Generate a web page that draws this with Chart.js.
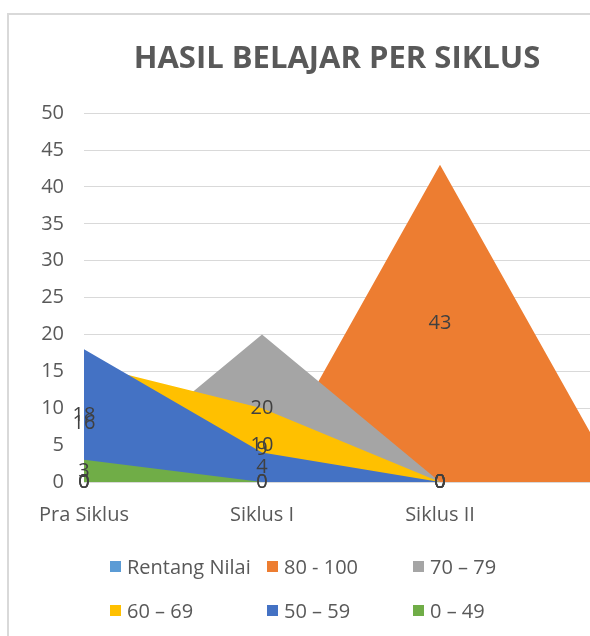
<!DOCTYPE html>
<html lang="id">
<head>
<meta charset="UTF-8">
<title>Hasil Belajar per Siklus</title>
<style>
  html, body {
    margin: 0;
    padding: 0;
    width: 590px;
    height: 636px;
    overflow: hidden;
    background: #ffffff;
    font-family: "Open Sans", sans-serif;
  }
  .frame {
    position: absolute;
    left: 7px;
    top: 13px;
    width: 700px;
    height: 700px;
    border-left: 2px solid #d9d9d9;
    border-top: 2px solid #d9d9d9;
  }
  .wrap {
    position: absolute;
    left: 0;
    top: 0;
    width: 674px;
    height: 636px;
  }
  .legend {
    position: absolute;
    left: 110px;
    top: 552px;
    display: grid;
    grid-template-columns: 157px 146px 140px;
    row-gap: 16px;
    font-size: 20px;
    color: #595959;
  }
  .legend span {
    display: flex;
    align-items: center;
    height: 28px;
    white-space: nowrap;
  }
  .legend i {
    display: inline-block;
    width: 11px;
    height: 11px;
    margin-right: 6px;
  }
</style>
</head>
<body>
<div class="frame"></div>
<div class="wrap"><canvas id="chart" width="674" height="636"></canvas></div>
<div class="legend" id="legend"></div>
<script src="https://cdn.jsdelivr.net/npm/chart.js"></script>
<script>
  // categories (the 4th one is cut off at the right edge in the picture)
  var categories = ['Pra Siklus', 'Siklus I', 'Siklus II', ''];
  var seriesNames = ['Rentang Nilai', '80 - 100', '70 \u2013 79', '60 \u2013 69', '50 \u2013 59', '0 \u2013 49'];
  var seriesColors = ['#5b9bd5', '#ed7d31', '#a5a5a5', '#ffc000', '#4472c4', '#70ad47'];

  var rentangNilai = [0, 9, 0, 0];
  var nilai80_100 = [0, 0, 43, 0];
  var nilai70_79 = [0, 20, 0, 0];
  var nilai60_69 = [16, 10, 0, 0];
  var nilai50_59 = [18, 4, 0, 0];
  var nilai0_49 = [3, 0, 0, 0];
  var seriesValues = [rentangNilai, nilai80_100, nilai70_79, nilai60_69, nilai50_59, nilai0_49];

  var yTicks = { min: 0, max: 50, step: 5 };

  // legend as html
  var legend = document.getElementById('legend');
  seriesNames.forEach(function(name, i) {
    var s = document.createElement('span');
    s.innerHTML = '<i style="background:' + seriesColors[i] + '"></i>' + name;
    legend.appendChild(s);
  });

  // data labels in the middle of each value, like excel area charts
  var areaLabels = {
    id: 'areaLabels',
    afterDatasetsDraw: function(chart) {
      var ctx = chart.ctx;
      var y = chart.scales.y;
      ctx.save();
      ctx.font = '20px "Open Sans", sans-serif';
      ctx.fillStyle = '#404040';
      ctx.textAlign = 'center';
      ctx.textBaseline = 'middle';
      chart.data.datasets.forEach(function(ds, i) {
        var meta = chart.getDatasetMeta(i);
        meta.data.forEach(function(pt, j) {
          if (categories[j] === '') return;
          var v = ds.data[j];
          ctx.fillText(String(v), pt.x, y.getPixelForValue(v / 2));
        });
      });
      ctx.restore();
    }
  };

  var datasets = seriesNames.map(function(name, i) {
    return {
      label: name,
      data: seriesValues[i],
      backgroundColor: seriesColors[i],
      borderWidth: 0,
      pointRadius: 0,
      fill: 'origin',
      tension: 0,
      order: seriesNames.length - i
    };
  });

  new Chart(document.getElementById('chart'), {
    type: 'line',
    data: { labels: categories, datasets: datasets },
    plugins: [areaLabels],
    options: {
      responsive: false,
      animation: false,
      plugins: {
        legend: { display: false },
        tooltip: { enabled: false },
        title: {
          display: true,
          text: 'HASIL BELAJAR PER SIKLUS',
          color: '#595959',
          font: { family: '"Open Sans", sans-serif', size: 31, weight: 'bold' },
          padding: { top: 41, bottom: 35 }
        }
      },
      scales: {
        x: {
          offset: false,
          grid: { display: false, drawTicks: false },
          border: { display: true, color: '#d9d9d9' },
          ticks: { color: '#595959', font: { family: '"Open Sans", sans-serif', size: 20 }, padding: 21, maxRotation: 0 },
          afterFit: function(scale) { scale.height = 154; }
        },
        y: {
          min: yTicks.min,
          max: yTicks.max,
          grid: { color: '#d9d9d9', drawTicks: false },
          border: { display: false },
          ticks: { stepSize: yTicks.step, color: '#595959', font: { family: '"Open Sans", sans-serif', size: 20 }, padding: 20 },
          afterFit: function(scale) { scale.width = 84; }
        },
        // empty right axis, keeps the plot narrower than the title box
        yRight: {
          position: 'right',
          min: yTicks.min,
          max: yTicks.max,
          grid: { display: false, drawTicks: false },
          border: { display: false },
          ticks: { display: false },
          afterFit: function(scale) { scale.width = 56; }
        }
      }
    }
  });
</script>
</body>
</html>
